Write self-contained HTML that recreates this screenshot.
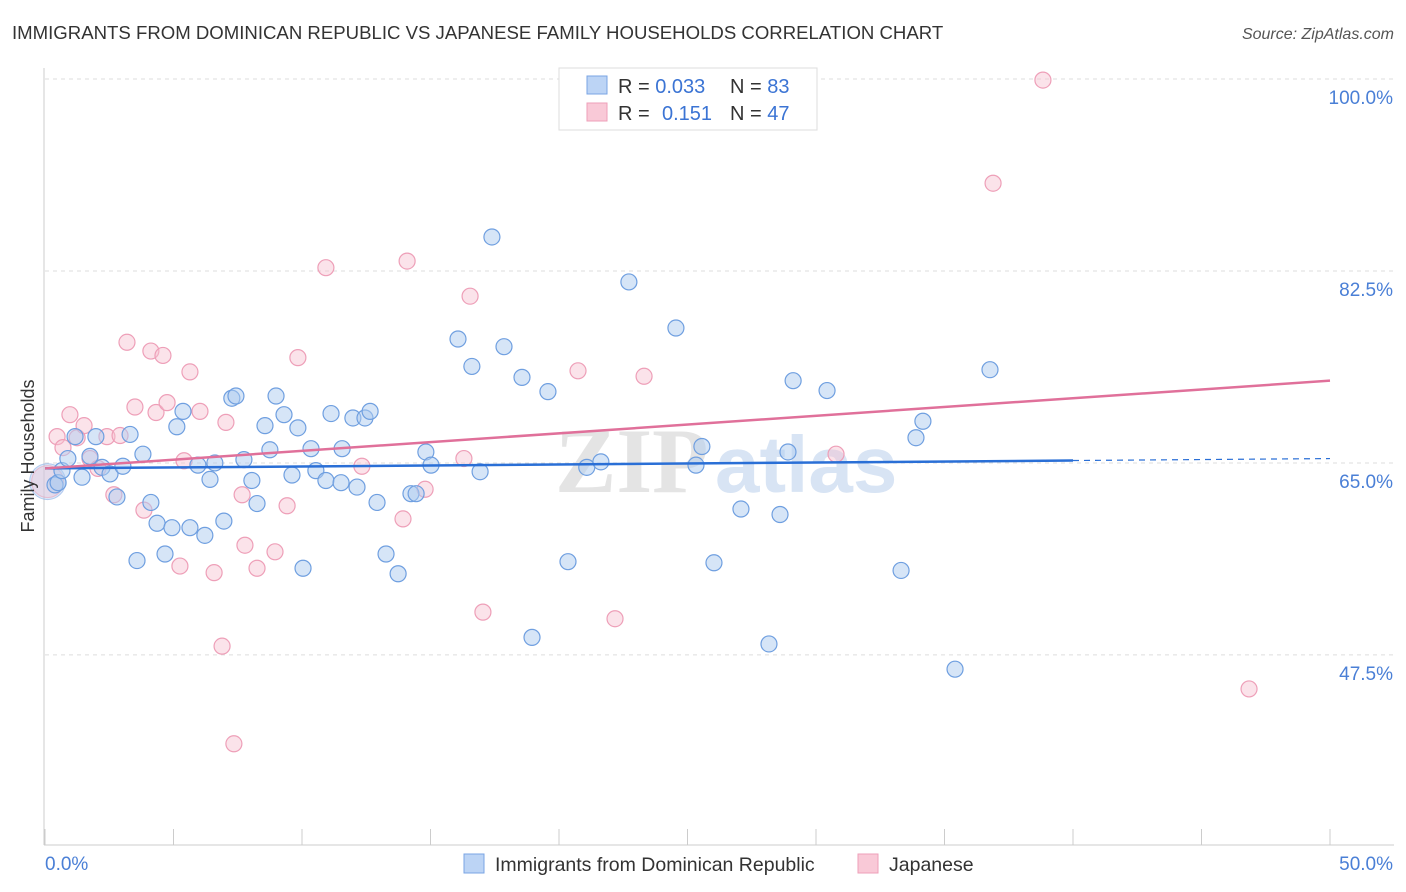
<!DOCTYPE html>
<html><head><meta charset="utf-8"><style>
body{margin:0;background:#fff;font-family:"Liberation Sans",sans-serif;}
svg{display:block}
</style></head><body>
<svg id="chart" width="1406" height="892" viewBox="0 0 1406 892">
<text x="12" y="39" font-size="18.6" fill="#333">IMMIGRANTS FROM DOMINICAN REPUBLIC VS JAPANESE FAMILY HOUSEHOLDS CORRELATION CHART</text>
<text x="1394" y="39" font-size="16" fill="#555" font-style="italic" text-anchor="end">Source: ZipAtlas.com</text>
<g id="grid"></g>
<g><text x="555" y="492" font-size="92" fill="#e4e4e4" font-family="Liberation Serif,serif" font-weight="bold">ZIP</text><text x="715" y="492" font-size="80" fill="#d8e4f4" font-weight="bold">atlas</text></g>
<line x1="44" y1="68" x2="44" y2="845" stroke="#ccc"/>
<line x1="44" y1="845" x2="1394" y2="845" stroke="#ccc"/>
<g id="xticks"></g>
<g id="pts"></g>
<g id="lines"></g>
<text x="28" y="456" font-size="18" fill="#333" text-anchor="middle" transform="rotate(-90 28 456)" dy="6">Family Households</text>
<text x="45" y="870" font-size="19" fill="#4a7fd6">0.0%</text>
<text x="1393" y="870" font-size="19" fill="#4a7fd6" text-anchor="end">50.0%</text>
<g>
<rect x="559" y="68" width="258" height="62" fill="#fff" stroke="#ddd"/>
<rect x="587" y="76" width="20" height="18" fill="#bcd4f5" stroke="#7aa4e4"/>
<rect x="587" y="103" width="20" height="18" fill="#f9c9d7" stroke="#ee9fb8"/>
<text x="618" y="93" font-size="20" fill="#333">R = <tspan fill="#3b74d4">0.033</tspan></text>
<text x="730" y="93" font-size="20" fill="#333">N = <tspan fill="#3b74d4">83</tspan></text>
<text x="618" y="120" font-size="20" fill="#333">R = <tspan fill="#3b74d4" x="662">0.151</tspan></text>
<text x="730" y="120" font-size="20" fill="#333">N = <tspan fill="#3b74d4">47</tspan></text>
</g>
<g>
<rect x="464" y="854" width="20" height="19" fill="#bcd4f5" stroke="#7aa4e4"/>
<text x="495" y="871" font-size="19.5" fill="#333">Immigrants from Dominican Republic</text>
<rect x="858" y="854" width="20" height="19" fill="#f9c9d7" stroke="#ee9fb8"/>
<text x="889" y="871" font-size="19.5" fill="#333">Japanese</text>
</g>
</svg>
<script>
const blueX=[0.39,0.51,0.66,0.89,1.17,1.44,1.75,1.98,2.22,2.53,2.80,3.03,3.31,3.58,3.81,4.12,4.36,4.67,4.94,5.13,5.37,5.64,5.95,6.22,6.42,6.61,6.96,7.27,7.43,7.74,8.05,8.25,8.56,8.75,8.99,9.30,9.61,9.84,10.04,10.35,10.54,10.93,11.13,11.52,11.56,11.98,12.14,12.45,12.65,12.92,13.27,13.74,14.24,14.44,14.82,15.02,16.07,16.61,16.93,17.39,17.86,18.56,18.95,19.57,20.35,21.08,21.63,22.72,24.55,25.33,25.56,26.03,27.08,28.17,28.6,28.91,29.11,30.43,33.31,33.89,34.16,35.41,36.77];
const blueY=[63.0,63.2,64.3,65.4,67.4,63.7,65.6,67.4,64.6,64.0,61.9,64.7,67.6,56.1,65.8,61.4,59.5,56.7,59.1,68.3,69.7,59.1,64.8,58.4,63.5,65.0,59.7,70.9,71.1,65.3,63.4,61.3,68.4,66.2,71.1,69.4,63.9,68.2,55.4,66.3,64.3,63.4,69.5,63.2,66.3,69.1,62.8,69.1,69.7,61.4,56.7,54.9,62.2,62.2,66.0,64.8,76.3,73.8,64.2,85.6,75.6,72.8,49.1,71.5,56.0,64.6,65.1,81.5,77.3,64.8,66.5,55.9,60.8,48.5,60.3,66.0,72.5,71.6,55.2,67.3,68.8,46.2,73.5];
const pinkX=[0.47,0.70,0.97,1.25,1.52,1.75,2.06,2.41,2.68,2.92,3.19,3.50,3.85,4.12,4.32,4.59,4.75,5.25,5.41,5.64,6.03,6.58,6.89,7.04,7.35,7.67,7.78,8.25,8.95,9.42,9.84,10.93,12.33,13.93,14.09,14.79,16.30,16.54,17.04,20.74,22.18,23.31,30.78,36.89,38.83,46.85];
const pinkY=[67.4,66.4,69.4,67.3,68.4,65.4,64.5,67.4,62.1,67.5,76.0,70.1,60.7,75.2,69.6,74.8,70.5,55.6,65.2,73.3,69.7,55.0,48.3,68.7,39.4,62.1,57.5,55.4,56.9,61.1,74.6,82.8,64.7,59.9,83.4,62.6,65.4,80.2,51.4,73.4,50.8,72.9,65.8,90.5,99.9,44.4];
const yTicks=[100,82.5,65,47.5];
const yTickLabels=["100.0%","82.5%","65.0%","47.5%"];
const xTicks=[0,5,10,15,20,25,30,35,40,45,50];
const blueTrend=[64.5,65.4];
const pinkTrend=[64.5,72.5];
const NS="http://www.w3.org/2000/svg";
const sx=v=>45+v*25.7;
const sy=v=>79+(100-v)*10.97;
function mk(tag,attrs,parent){const e=document.createElementNS(NS,tag);for(const k in attrs)e.setAttribute(k,attrs[k]);parent.appendChild(e);return e;}
const grid=document.getElementById('grid');
yTicks.forEach((t,i)=>{
 const l=mk('line',{x1:45,x2:1394,y1:sy(t),y2:sy(t),stroke:'#ddd','stroke-dasharray':'4,4'},grid);
 
 
 const tx=mk('text',{x:1393,y:sy(t)+25,'font-size':19,fill:'#4a7fd6','text-anchor':'end'},grid);
 tx.textContent=yTickLabels[i];
 
 
});
const xt=document.getElementById('xticks');
xTicks.forEach(t=>{
 const l=mk('line',{x1:sx(t),x2:sx(t),y1:829,y2:845,stroke:'#ccc'},xt);
 
 
});
const pts=document.getElementById('pts');
let big=mk('circle',{cx:sx(0.1),cy:sy(63.3),r:18,fill:'rgba(174,203,240,0.45)',stroke:'rgba(120,160,225,0.5)'},pts);


big=mk('circle',{cx:sx(0.1),cy:sy(63.3),r:16,fill:'rgba(247,192,208,0.35)',stroke:'rgba(236,151,177,0.5)'},pts);


pinkX.forEach((x,i)=>{
 const c=mk('circle',{cx:sx(x),cy:sy(pinkY[i]),r:8,fill:'rgba(247,192,208,0.45)',stroke:'#ee9fb8','stroke-width':1.2},pts);
 
 
});
blueX.forEach((x,i)=>{
 const c=mk('circle',{cx:sx(x),cy:sy(blueY[i]),r:8,fill:'rgba(174,203,240,0.5)',stroke:'#6f9fe0','stroke-width':1.2},pts);
 
 
});
const lines=document.getElementById('lines');
const bAt=x=>blueTrend[0]+(blueTrend[1]-blueTrend[0])*x/50;
let ln=mk('line',{x1:sx(0),y1:sy(bAt(0)),x2:sx(40),y2:sy(bAt(40)),stroke:'#2a6fd6','stroke-width':2.5},lines);


ln=mk('line',{x1:sx(40),y1:sy(bAt(40)),x2:sx(50),y2:sy(bAt(50)),stroke:'#2a6fd6','stroke-width':1.2,'stroke-dasharray':'6,5'},lines);


ln=mk('line',{x1:sx(0),y1:sy(pinkTrend[0]),x2:sx(50),y2:sy(pinkTrend[1]),stroke:'#e0709a','stroke-width':2.5},lines);


</script>
</body></html>
